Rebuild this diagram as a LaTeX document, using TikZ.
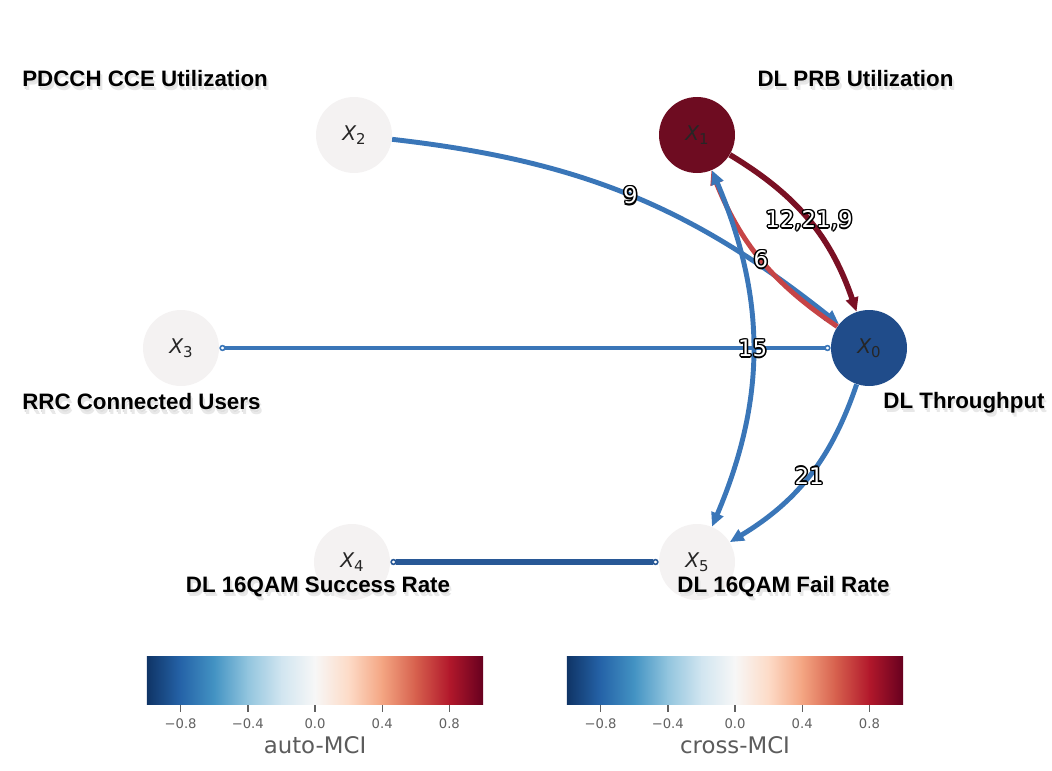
\documentclass[tikz,border=0pt]{standalone}
\usepackage{fontspec}
\setmainfont{Liberation Sans}
\newfontfamily\dvfont{DejaVu Sans}
\usepackage{xcolor}
\usetikzlibrary{positioning, arrows.meta, calc}

% node and link colours
\definecolor{nodegray}{RGB}{244,242,242}
\definecolor{nodeblue}{RGB}{32,76,138}
\definecolor{nodered}{RGB}{110,12,33}
\definecolor{linkblue}{RGB}{58,118,184}
\definecolor{linkdark}{RGB}{40,88,150}
\definecolor{linkred}{RGB}{198,68,70}
\definecolor{linkmaroon}{RGB}{122,16,36}
% RdBu colour map, from -1 to 1
\definecolor{rdbu0}{HTML}{0F3466}
\definecolor{rdbu1}{HTML}{2563A8}
\definecolor{rdbu2}{HTML}{4393C3}
\definecolor{rdbu3}{HTML}{92C5DE}
\definecolor{rdbu4}{HTML}{D1E5F0}
\definecolor{rdbu5}{HTML}{F7F7F7}
\definecolor{rdbu6}{HTML}{FDDBC7}
\definecolor{rdbu7}{HTML}{F4A582}
\definecolor{rdbu8}{HTML}{D6604D}
\definecolor{rdbu9}{HTML}{B2182B}
\definecolor{rdbu10}{HTML}{67001F}

\newcommand\xn[1]{{\dvfont\itshape X}\raisebox{-0.4ex}{\dvfont\fontsize{8.5}{9}\selectfont #1}}
\newcommand\hcopy[3]{\rlap{\hspace*{#1}\raisebox{#2}{\color{black}#3}}}
\newcommand\halotext[1]{\hcopy{0.85pt}{0pt}{#1}\hcopy{-0.85pt}{0pt}{#1}\hcopy{0pt}{0.85pt}{#1}\hcopy{0pt}{-0.85pt}{#1}%
  \hcopy{0.6pt}{0.6pt}{#1}\hcopy{-0.6pt}{0.6pt}{#1}\hcopy{0.6pt}{-0.6pt}{#1}\hcopy{-0.6pt}{-0.6pt}{#1}{\color{white}#1}}
\newcommand\shadowed[1]{\rlap{\hspace*{0.6pt}\raisebox{-1.4pt}{\color{black!13}#1}}\rlap{\hspace*{1.3pt}\raisebox{-2.3pt}{\color{black!9}#1}}#1}

\begin{document}
\begin{tikzpicture}[
    var/.style={circle, minimum size=1.52cm, inner sep=0pt, text=black!85, font=\fontsize{11.5}{12}\selectfont},
    lnk/.style={line width=2.8pt},
    tip/.style={-{Triangle[length=8pt, width=7pt]}},
    dottip/.style={{Circle[open, length=3.6pt, width=3.6pt, fill=white, line width=0.9pt]}-{Circle[open, length=3.6pt, width=3.6pt, fill=white, line width=0.9pt]}},
    edgelbl/.style={font=\dvfont\fontsize{13}{13}\selectfont, inner sep=0pt},
    tag/.style={font=\bfseries\fontsize{12.7}{14}\selectfont, inner sep=0pt},
    tick/.style={font=\dvfont\fontsize{7.5}{8}\selectfont, text=black!62},
    cbname/.style={font=\dvfont\fontsize{13}{14}\selectfont, text=black!64}
]
\useasboundingbox (0,0) rectangle (21.04,15.4);

% Variables
\node[var, fill=nodeblue] (x0) at (17.38,8.44) {\xn{0}};
\node[var, fill=nodered] (x1) at (13.94,12.70) {\xn{1}};
\node[var, fill=nodegray] (x2) at (7.08,12.70) {\xn{2}};
\node[var, fill=nodegray] (x3) at (3.62,8.44) {\xn{3}};
\node[var, fill=nodegray] (x4) at (7.04,4.16) {\xn{4}};
\node[var, fill=nodegray] (x5) at (13.94,4.16) {\xn{5}};

% Names
\node[tag, anchor=west] (n2) at (0.44,13.78) {\shadowed{PDCCH CCE Utilization}};
\node[tag] (n1) at (17.11,13.78) {\shadowed{DL PRB Utilization}};
\node[tag, anchor=west] (n3) at (0.44,7.32) {\shadowed{RRC Connected Users}};
\node[tag] (n0) at (19.28,7.31) {\shadowed{DL Throughput}};
\node[tag] (n4) at (6.36,3.63) {\shadowed{DL 16QAM Success Rate}};
\node[tag] (n5) at (15.67,3.63) {\shadowed{DL 16QAM Fail Rate}};

% Links
\draw[lnk, linkblue, tip] (x2) to[bend left=16] node[edgelbl] {\halotext{9}} (x0);
\draw[lnk, linkblue, dottip] (x3) -- (x0);
\draw[lnk, line width=3.3pt, linkdark, dottip] (x4) -- (x5);
\draw[lnk, linkmaroon, line width=3.2pt, tip] (x1) to[bend left=20] node[edgelbl] {\halotext{12,21,9}} (x0);
\draw[lnk, linkred, tip] (x0) to[bend left=17] node[edgelbl] {\halotext{6}} (x1);
\draw[lnk, linkblue, {Triangle[length=8pt, width=7pt]}-{Triangle[length=8pt, width=7pt]}] (x5) to[bend right=23] node[edgelbl] {\halotext{15}} (x1);
\draw[lnk, linkblue, tip] (x0) to[bend left=20] node[edgelbl] {\halotext{21}} (x5);

% Colour bars
\foreach \bx/\bname in {2.94/auto-MCI, 11.34/cross-MCI} {
  \foreach \i in {0,...,9} {
    \pgfmathtruncatemacro\j{\i+1}
    \shade[left color=rdbu\i, right color=rdbu\j] ({\bx+\i*0.672-0.004},1.32) rectangle ({\bx+\i*0.672+0.676},2.28);
  }
  \foreach \v/\t in {-0.8/−0.8, -0.4/−0.4, 0/0.0, 0.4/0.4, 0.8/0.8} {
    \draw[black!62, line width=0.8pt] ({\bx+(\v+1)*3.36},1.30) -- ({\bx+(\v+1)*3.36},1.16)
      node[tick, below=0pt] {\t};
  }
  \node[cbname] at ({\bx+3.36},0.50) {\bname};
}

\end{tikzpicture}
\end{document}
